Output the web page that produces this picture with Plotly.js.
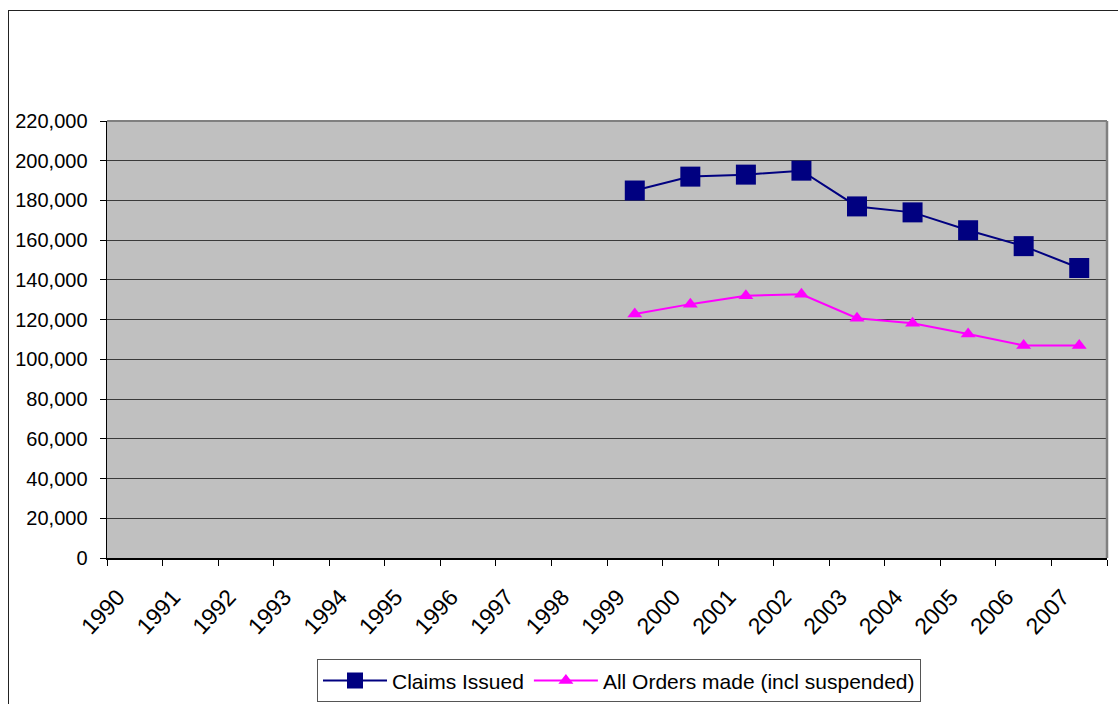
<!DOCTYPE html>
<html>
<head>
<meta charset="utf-8">
<script src="https://cdn.plot.ly/plotly-3.0.1.min.js"></script>
<style>
  html, body { margin: 0; padding: 0; background: #fff; }
  #wrap { position: relative; width: 1118px; height: 704px; overflow: hidden; }
  #chart { width: 1118px; height: 704px; }
  #frame { position: absolute; left: 8px; top: 10px; width: 1200px; height: 800px;
           border-left: 1.5px solid #222; border-top: 1.5px solid #222; pointer-events: none; }
</style>
</head>
<body>
<div id="wrap">
  <div id="chart"></div>
  <div id="frame"></div>
</div>
<script>
// Category axis labels
const categories = ["1990","1991","1992","1993","1994","1995","1996","1997","1998",
                    "1999","2000","2001","2002","2003","2004","2005","2006","2007"];
// Years with data
const dataYears = ["1999","2000","2001","2002","2003","2004","2005","2006","2007"];
// Series values
const claimsIssued = [185000, 192000, 193000, 195000, 177000, 174000, 165000, 157000, 146000];
const ordersMade   = [122800, 127800, 132000, 132800, 120700, 118200, 112800, 107000, 107000];
const seriesNames = ["Claims Issued", "All Orders made (incl suspended)"];

const FONT = "Arial, 'Liberation Sans', sans-serif";

const traces = [
  {
    x: dataYears, y: claimsIssued, name: seriesNames[0], type: "scatter", mode: "lines+markers",
    line: { color: "#000080", width: 2 },
    marker: { symbol: "square", size: 20, color: "#000080" }
  },
  {
    x: dataYears, y: ordersMade, name: seriesNames[1], type: "scatter", mode: "lines+markers",
    line: { color: "#FF00FF", width: 2 },
    marker: { symbol: "triangle-up", size: 13, color: "#FF00FF" }
  }
];

const layout = {
  width: 1118, height: 704,
  margin: { l: 107, r: 11, t: 121, b: 146, autoexpand: false },
  paper_bgcolor: "#ffffff",
  plot_bgcolor: "#C0C0C0",
  font: { family: FONT, size: 20, color: "#000" },
  showlegend: true,
  xaxis: {
    type: "category",
    categoryorder: "array", categoryarray: categories,
    tickvals: categories,
    range: [-0.5, categories.length - 0.5],
    tickson: "boundaries",
    ticks: "outside", ticklen: 6, tickcolor: "#000", tickwidth: 1,
    showgrid: false, zeroline: false,
    showline: true, linecolor: "#000", linewidth: 1.5,
    tickangle: -47,
    tickfont: { family: FONT, size: 23, color: "#000" },
    ticklabelstandoff: 15,
    ticklabelshift: -17,
    automargin: false,
    fixedrange: true
  },
  yaxis: {
    range: [0, 220000], dtick: 20000, tick0: 0,
    tickformat: ",d",
    ticks: "outside", ticklen: 6, tickcolor: "#000", tickwidth: 1,
    showgrid: true, gridcolor: "#3a3a3a", gridwidth: 1,
    zeroline: false,
    showline: true, linecolor: "#000", linewidth: 1.5,
    tickfont: { family: FONT, size: 20, color: "#000" },
    ticklabelstandoff: 8,
    automargin: false,
    fixedrange: true
  },
  legend: {
    orientation: "h",
    x: 0.512, xanchor: "center",
    y: -0.232, yanchor: "top",
    bgcolor: "#fff", bordercolor: "#555", borderwidth: 1,
    font: { family: FONT, size: 21, color: "#000" },
    itemwidth: 64,
    traceorder: "normal"
  },
  shapes: [
    { type: "line", xref: "paper", yref: "paper", x0: 0, x1: 1, y0: 1, y1: 1,
      line: { color: "#808080", width: 2 }, layer: "above" },
    { type: "line", xref: "paper", yref: "paper", x0: 1, x1: 1, y0: 0, y1: 1,
      line: { color: "#808080", width: 2.5 }, layer: "above" }
  ]
};

Plotly.newPlot("chart", traces, layout, { displayModeBar: false, staticPlot: true });
</script>
</body>
</html>
